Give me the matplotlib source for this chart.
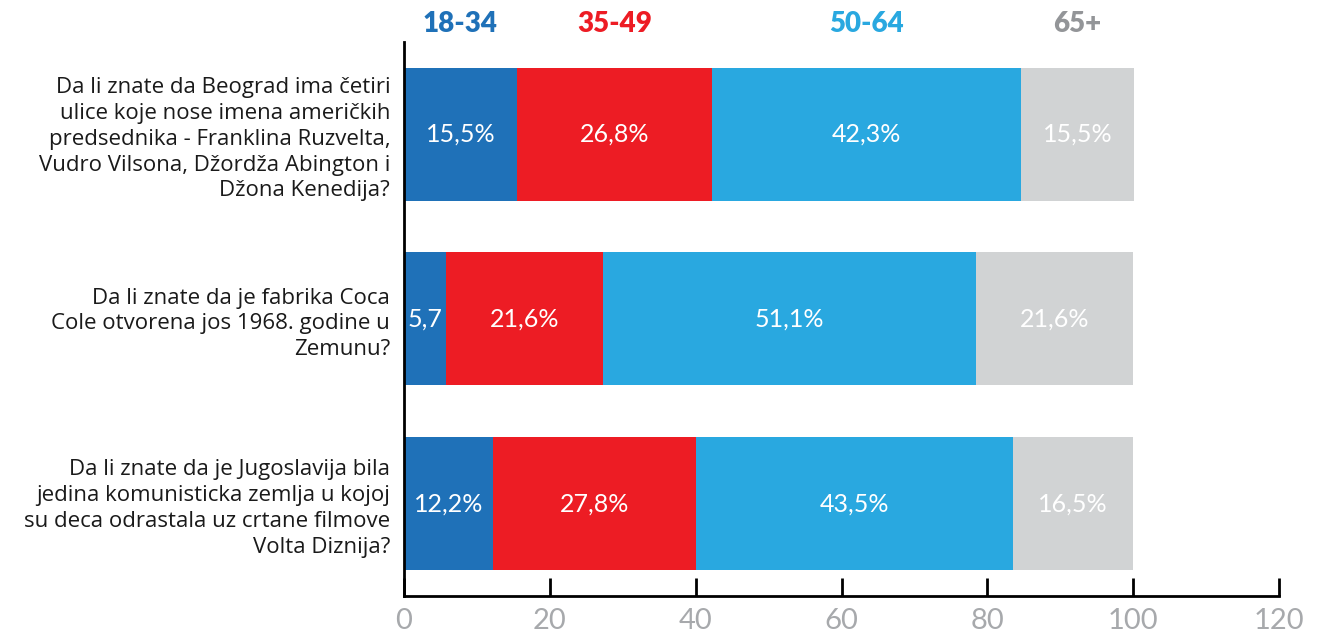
import matplotlib.pyplot as plt
import numpy as np

questions = [
    "Da li znate da Beograd ima četiri\nulice koje nose imena američkih\npredsednika - Franklina Ruzvelta,\nVudro Vilsona, Džordža Abington i\nDžona Kenedija?",
    "Da li znate da je fabrika Coca\nCole otvorena jos 1968. godine u\nZemunu?",
    "Da li znate da je Jugoslavija bila\njedina komunisticka zemlja u kojoj\nsu deca odrastala uz crtane filmove\nVolta Diznija?",
]
groups = ["18-34", "35-49", "50-64", "65+"]
values = [
    [15.5, 5.7, 12.2],
    [26.8, 21.6, 27.8],
    [42.3, 51.1, 43.5],
    [15.5, 21.6, 16.5],
]
value_labels = [
    ["15,5%", "5,7", "12,2%"],
    ["26,8%", "21,6%", "27,8%"],
    ["42,3%", "51,1%", "43,5%"],
    ["15,5%", "21,6%", "16,5%"],
]
bar_colors = ["#1f71b8", "#ed1c24", "#29a8e0", "#d1d3d4"]
legend_colors = ["#1f71b8", "#ed1c24", "#29a8e0", "#939598"]

fig = plt.figure(figsize=(13.29, 6.36), dpi=100)
ax = fig.add_axes([0.304, 0.063, 0.6584, 0.871])

y = np.arange(len(questions))
left = np.zeros(len(questions))
for i, g in enumerate(groups):
    vals = np.array(values[i])
    ax.barh(y, vals, left=left, height=0.72, color=bar_colors[i])
    for j, v in enumerate(vals):
        ax.text(left[j] + v / 2, y[j], value_labels[i][j], ha="center", va="center",
                color="white", fontsize=18, family="Lato")
    # group label above the first bar
    ax.text(left[0] + vals[0] / 2, -0.525, g, ha="center", va="bottom",
            color=legend_colors[i], fontsize=20, fontweight="heavy", family="Lato",
            clip_on=False)
    left += vals

ax.set_xlim(0, 120)
ax.set_ylim(2.5, -0.5)
ax.set_xticks([0, 20, 40, 60, 80, 100, 120])
ax.set_yticks(y)
ax.set_yticklabels(questions, fontsize=16, family="Open Sans",
                   color="#1a1a1a", ha="right", linespacing=1.3)
ax.tick_params(axis="y", length=0, pad=10)
ax.tick_params(axis="x", direction="in", length=13, width=2, pad=9,
               labelsize=21, labelcolor="#a7a9ac")
for lbl in ax.get_xticklabels():
    lbl.set_family("Lato")
for s in ["top", "right"]:
    ax.spines[s].set_visible(False)
for s in ["left", "bottom"]:
    ax.spines[s].set_linewidth(2)
    ax.spines[s].set_color("black")

fig.savefig("out.png", dpi=100)
